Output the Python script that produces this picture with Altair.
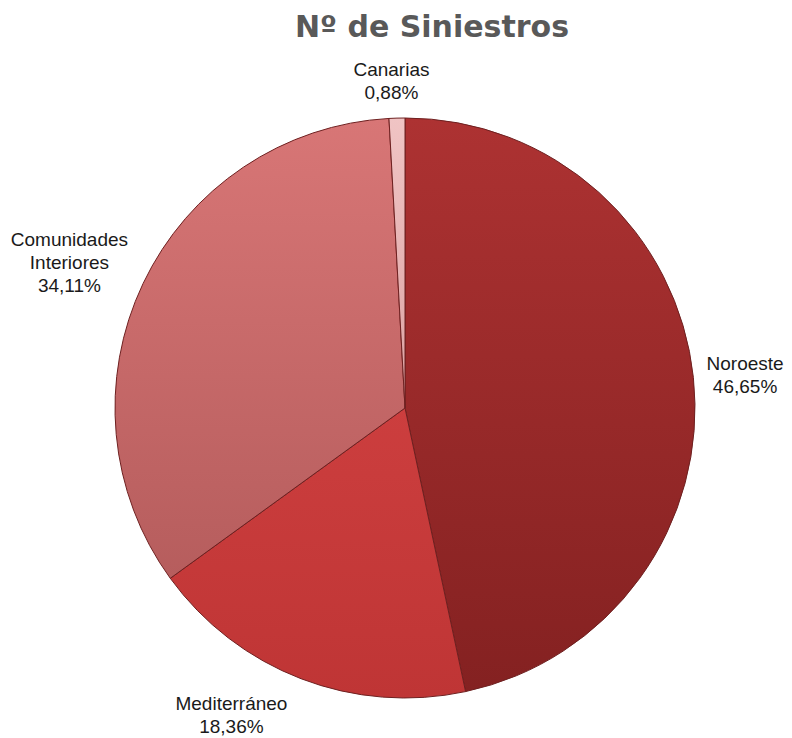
import altair as alt
import pandas as pd

categories = ["Noroeste", "Mediterráneo", "Comunidades Interiores", "Canarias"]
values = [46.65, 18.36, 34.11, 0.88]
label_lines = [["Noroeste", "46,65%"], ["Mediterráneo", "18,36%"],
               ["Comunidades", "Interiores", "34,11%"], ["Canarias", "0,88%"]]
title_text = "Nº de Siniestros"

# style: gradient stops (top, bottom) per slice
fills = {
    "Noroeste": ("#ad3232", "#842121"),
    "Mediterráneo": ("#cc3e3e", "#bf3535"),
    "Comunidades Interiores": ("#d87676", "#b65d5d"),
    "Canarias": ("#f0c4c4", "#dca3a3"),
}
# label nudges (dx, dy) relative to mid-angle anchor
nudges = {
    "Noroeste": (-3, 4),
    "Mediterráneo": (-50, -15),
    "Comunidades Interiores": (-24, 3),
    "Canarias": (-4, 18),
}

df = pd.DataFrame({
    "cat": categories,
    "val": values,
    "order": list(range(len(categories))),
    "label": label_lines,
})

W, H = 776, 730
CX, CY = 397, 400
R = 290
LR = 345
LH = 23

base = alt.Chart(df).transform_window(
    cum="sum(val)", sort=[alt.SortField("order")]
).transform_calculate(
    start="datum.cum - datum.val", mid="datum.cum - datum.val/2"
)

theta_scale = alt.Scale(domain=[0, 100], range=[0, 6.283185307])

layers = []
for cat in categories:
    top, bot = fills[cat]
    grad = alt.LinearGradient(
        gradient="linear",
        stops=[alt.GradientStop(color=top, offset=0), alt.GradientStop(color=bot, offset=1)],
        x1=0, x2=0, y1=0, y2=1,
    )
    layers.append(
        base.transform_filter(alt.datum.cat == cat).mark_arc(
            outerRadius=R, fill=grad, stroke="#6e2020", strokeWidth=1
        ).encode(
            theta=alt.Theta("start:Q", scale=theta_scale),
            theta2="cum:Q",
            x=alt.value(CX), y=alt.value(CY),
        )
    )

for i, cat in enumerate(categories):
    dx, dy = nudges[cat]
    n = len(label_lines[i])
    layers.append(
        base.transform_filter(alt.datum.cat == cat).mark_text(
            radius=LR, font="Liberation Sans", fontSize=19, lineHeight=LH,
            align="center", baseline="middle", color="#1a1a1a",
            dx=dx, dy=dy - (n - 1) * LH / 2,
        ).encode(
            theta=alt.Theta("mid:Q", scale=theta_scale),
            text="label",
            x=alt.value(CX), y=alt.value(CY),
        )
    )

title = alt.Chart(pd.DataFrame({"t": [title_text]})).mark_text(
    font="DejaVu Sans", fontWeight="bold", fontSize=30, color="#595959",
    align="center", baseline="middle",
).encode(text="t:N", x=alt.value(424), y=alt.value(20))
layers.append(title)

chart = alt.layer(*layers).properties(
    width=W, height=H, padding=0, autosize="none", background="white",
).configure_view(stroke=None)

chart.save("out.html", embed_options={"renderer": "svg", "actions": False})
